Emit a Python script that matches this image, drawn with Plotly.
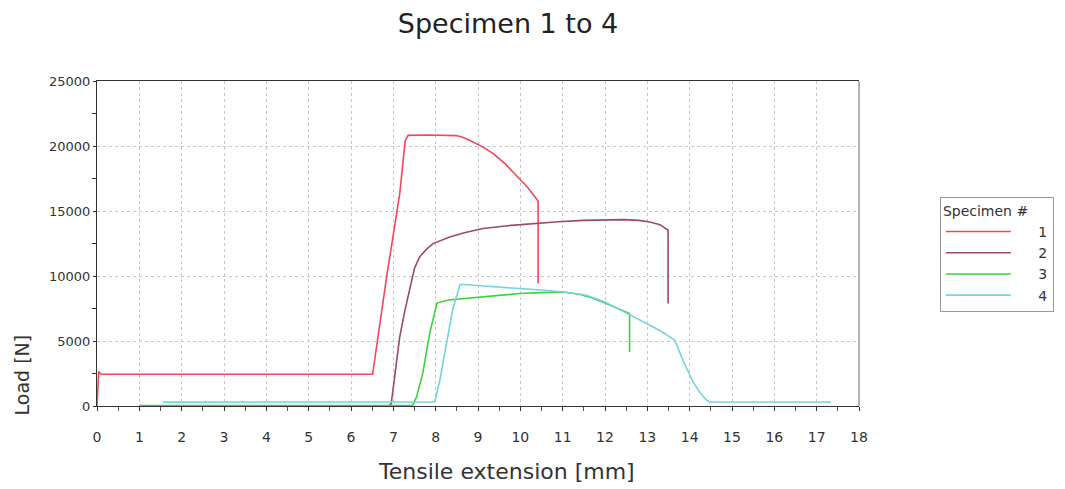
import plotly.graph_objects as go

# Specimen 1
x1 = [0, 0.04, 0.1, 6.51, 6.84, 7.15, 7.28, 7.35, 7.8, 8.2, 8.49, 8.65, 8.80, 9.1, 9.36, 9.65, 9.91, 10.15, 10.38, 10.42, 10.42]
y1 = [0, 2650, 2440, 2440, 9900, 16300, 20400, 20820, 20850, 20820, 20800, 20650, 20440, 19950, 19410, 18600, 17750, 16900, 15950, 15750, 9420]

# Specimen 2
x2 = [1.0, 6.9, 6.95, 7.05, 7.15, 7.27, 7.39, 7.5, 7.62, 7.78, 7.94, 8.33, 8.7, 9.12, 9.7, 10.30, 10.9, 11.48, 12.0, 12.43, 12.8, 13.06, 13.3, 13.49, 13.49]
y2 = [0, 0, 185, 2700, 5300, 7300, 9150, 10600, 11460, 12050, 12490, 13000, 13350, 13650, 13870, 14030, 14170, 14280, 14330, 14340, 14280, 14150, 13950, 13520, 7880]

# Specimen 3
x3 = [1.0, 7.45, 7.55, 7.7, 7.86, 8.03, 8.3, 8.7, 9.2, 9.6, 9.98, 10.5, 11.01, 11.4, 11.7, 12.03, 12.3, 12.58, 12.58]
y3 = [30, 30, 700, 2600, 5600, 7920, 8150, 8270, 8390, 8520, 8650, 8720, 8770, 8600, 8300, 7880, 7530, 7110, 4150]

# Specimen 4
x4 = [1.56, 7.98, 8.1, 8.25, 8.4, 8.58, 9.0, 9.5, 9.99, 10.5, 11.01, 11.56, 12.0, 12.35, 12.75, 13.14, 13.4, 13.65, 13.84, 14.08, 14.25, 14.40, 14.48, 17.34]
y4 = [300, 310, 2000, 4800, 7400, 9360, 9250, 9130, 9030, 8920, 8770, 8515, 8000, 7415, 6750, 6080, 5600, 5050, 3520, 1850, 1000, 440, 310, 310]

names = ["1", "2", "3", "4"]
colors = ["#f04858", "#9c4c5c", "#3cd23c", "#78d4dc"]
xs = [x1, x2, x3, x4]
ys = [y1, y2, y3, y4]

FONT = "DejaVu Sans"
PAD = "\u00a0" * 5

fig = go.Figure()
for x, y, n, c in zip(xs, ys, names, colors):
    fig.add_trace(go.Scatter(x=x, y=y, mode="lines", name=PAD + n,
                             line=dict(color=c, width=1.6)))

fig.update_layout(
    width=1065, height=489,
    margin=dict(l=89, r=214, t=73, b=91, autoexpand=False),
    plot_bgcolor="white", paper_bgcolor="white",
    font=dict(family=FONT, size=13, color="#333333"),
    title=dict(text="Specimen 1 to 4", x=0.4695, xref="container", xanchor="center",
               y=0.968, yref="container", yanchor="middle",
               font=dict(family=FONT, size=27, color="#222222")),
    legend=dict(title=dict(text="Specimen #", font=dict(size=14, color="#333333")),
                xref="container", x=0.875, xanchor="left",
                yref="container", y=0.614, yanchor="top",
                bordercolor="#999999", borderwidth=1, bgcolor="white",
                font=dict(size=14, color="#333333"), itemwidth=65,
                tracegroupgap=0),
    showlegend=True,
)

fig.update_xaxes(
    range=[0, 18], dtick=1, tick0=0, automargin=False,
    showline=True, linecolor="#333333", linewidth=1.2, mirror=True,
    showgrid=True, gridcolor="#c8c8c8", griddash="dot", gridwidth=1,
    zeroline=False,
    ticks="outside", ticklen=4, tickcolor="#333333",
    ticklabelstandoff=14,
    minor=dict(dtick=0.5, ticks="outside", ticklen=4, tickcolor="#555555", showgrid=False),
    tickfont=dict(size=14, color="#333333"),
)
fig.update_yaxes(
    range=[0, 25000], dtick=5000, tick0=0, automargin=False, tickformat="d",
    showline=True, linecolor="#333333", linewidth=1.2, mirror=False,
    showgrid=True, gridcolor="#c8c8c8", griddash="dot", gridwidth=1,
    zeroline=False,
    ticks="outside", ticklen=3, tickcolor="#333333",
    minor=dict(dtick=2500, ticks="outside", ticklen=4, tickcolor="#333333", showgrid=False),
    tickfont=dict(size=13, color="#333333"),
)

# right frame line (grey)
fig.add_shape(type="line", xref="paper", yref="paper", x0=1, x1=1, y0=0, y1=1,
              line=dict(color="#9a9a9a", width=1.5))

fig.add_annotation(text="Load [N]", xref="paper", yref="paper", x=-0.098, y=0.095,
                   xanchor="center", yanchor="middle", textangle=-90, showarrow=False,
                   font=dict(family=FONT, size=19, color="#333333"))
fig.add_annotation(text="Tensile extension [mm]", xref="paper", yref="paper", x=0.538, y=-0.2,
                   xanchor="center", yanchor="middle", showarrow=False,
                   font=dict(family=FONT, size=22, color="#333333"))

fig.write_html("out.html")
